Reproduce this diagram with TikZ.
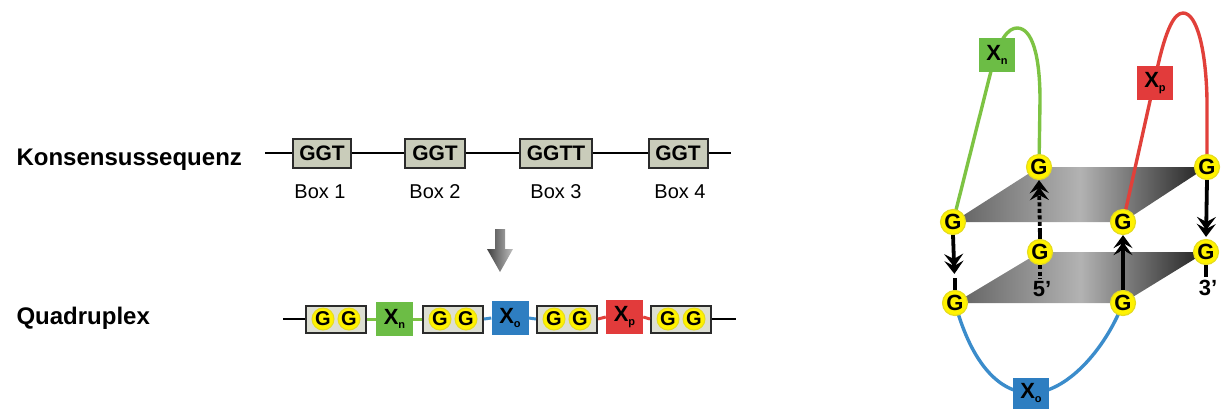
\documentclass[tikz,border=0pt]{standalone}
\usepackage{fontspec}
\setmainfont{Liberation Sans}
\usetikzlibrary{arrows.meta,calc}

\definecolor{seqfill}{HTML}{C9CCBA}
\definecolor{ggfill}{HTML}{DDDFD3}
\definecolor{boxedge}{HTML}{2B2B2B}
\definecolor{gyellow}{HTML}{FFF200}
\definecolor{grim}{HTML}{E6DC1E}
\definecolor{xgreen}{HTML}{6CBD45}
\definecolor{xblue}{HTML}{2E7EC1}
\definecolor{xred}{HTML}{E23B3B}
\definecolor{lgreen}{HTML}{7DC343}
\definecolor{lblue}{HTML}{3B8CCB}
\definecolor{lred}{HTML}{E1403A}

\newcommand{\fs}[1]{\fontsize{#1}{#1}\selectfont}
\newcommand{\xsub}[1]{X\raisebox{-4pt}{\fs{11}#1}}

\tikzset{
  rowlabel/.style={anchor=base west, font=\fs{24}\bfseries},
  seqbox/.style={draw=boxedge, line width=2, fill=seqfill, minimum height=29,
    inner sep=0, font=\fs{21}\bfseries},
  boxname/.style={anchor=base, font=\fs{20}},
  ggbox/.style={draw=boxedge, line width=2, fill=ggfill, minimum width=60,
    minimum height=27, inner sep=0},
  gsmall/.style={circle, fill=gyellow, draw=grim, line width=1, minimum size=22,
    inner sep=0, font=\fs{20}\bfseries},
  gball/.style={circle, fill=gyellow, draw=grim, line width=1.2, minimum size=25,
    inner sep=0, font=\fs{22}\bfseries},
  xbox/.style={minimum width=37, minimum height=34, inner sep=0,
    font=\fs{22}\bfseries},
  strand/.style={line width=2},
  cstrand/.style={line width=3},
  loop/.style={line width=3.4},
  arr/.style={line width=3.8, -{Stealth[length=13,width=19,inset=5,sep=-6]Stealth[length=13,width=19,inset=5]}},
  stem/.style={line width=3.8},
  dotline/.style={dash pattern=on 4 off 2.5},
  endlabel/.style={font=\fs{22}\bfseries},
  plane/.style={left color=black!62, right color=black!88, middle color=black!30}
}

\begin{document}
\begin{tikzpicture}[x=1pt,y=-1pt]
\useasboundingbox (0,0) rectangle (1222,408);

% ---------- consensus sequence ----------
\node[rowlabel] (lab1) at (13,165) {Konsensussequenz};
\coordinate (s0) at (265,153);
\coordinate (s5) at (731,153);
\node[seqbox, minimum width=58] (b1) at (322,153) {GGT};
\node[seqbox, minimum width=60] (b2) at (435,153) {GGT};
\node[seqbox, minimum width=72] (b3) at (556,153) {GGTT};
\node[seqbox, minimum width=59] (b4) at (678,153) {GGT};
\draw[strand] (s0) -- (b1.west) (b1.east) -- (b2.west) (b2.east) -- (b3.west)
  (b3.east) -- (b4.west) (b4.east) -- (s5);
\node[boxname] (n1) at (320,198) {Box 1};
\node[boxname] (n2) at (435,198) {Box 2};
\node[boxname] (n3) at (556,198) {Box 3};
\node[boxname] (n4) at (680,198) {Box 4};

% ---------- shaded down arrow ----------
\shade[left color=black!75, right color=black!25]
  (495,229) -- (505,229) -- (505,249) -- (513,249) -- (500,272)
  -- (487,249) -- (495,249) -- cycle;

% ---------- quadruplex sequence ----------
\node[rowlabel] (lab2) at (13,324) {Quadruplex};
\coordinate (q0) at (283,319);
\coordinate (q9) at (736,319);
\node[ggbox] (g1) at (336,319) {};
\node[xbox, fill=xgreen] (qn) at (394.5,319) {\xsub{n}};
\node[ggbox] (g2) at (453,319) {};
\node[xbox, fill=xblue] (qo) at (510,318) {\xsub{o}};
\node[ggbox] (g3) at (567,319) {};
\node[xbox, fill=xred] (qp) at (624.5,317) {\xsub{p}};
\node[ggbox] (g4) at (681,319) {};
\draw[strand] (q0) -- (g1.west);
\draw[cstrand, lgreen] (g1.east) -- (qn.west) (qn.east) -- (g2.west);
\draw[cstrand, lblue] (g2.east) -- (qo.west) (qo.east) -- (g3.west);
\draw[cstrand, lred] (g3.east) -- (qp.west) (qp.east) -- (g4.west);
\draw[strand] (g4.east) -- (q9);
\foreach \b in {g1,g2,g3,g4}{
  \node[gsmall] (\b a) at ($(\b.center)+(-13,0)$) {G};
  \node[gsmall] (\b b) at ($(\b.center)+(13,0)$) {G};
}

% ---------- G-quartet stack ----------
\coordinate (ptfl) at (953,222);
\coordinate (ptfr) at (1123,222);
\coordinate (ptbl) at (1039,167);
\coordinate (ptbr) at (1207,167);
\coordinate (pbfl) at (955,303);
\coordinate (pbfr) at (1123,303);
\coordinate (pbbl) at (1040,252);
\coordinate (pbbr) at (1206,252);

\shade[plane] (ptfl) -- (ptfr) -- (ptbr) -- (ptbl) -- cycle;
\shade[plane] (pbfl) -- (pbfr) -- (pbbr) -- (pbbl) -- cycle;

% loops
\draw[loop, lgreen] (ptfl) -- (992,67) .. controls (999,40) and (1008,28) .. (1017,28)
  .. controls (1032,28) and (1040,55) .. (1040,100) -- (ptbl);
\draw[loop, lred] (ptfr) -- (1158,65) .. controls (1166,30) and (1174,13) .. (1183,13)
  .. controls (1197,13) and (1206,50) .. (1207,100) -- (ptbr);
\draw[loop, lblue] (pbfl) .. controls (972,365) and (1000,393) .. (1031,393)
  .. controls (1066,393) and (1105,350) .. (pbfr);
\node[xbox, fill=xgreen, minimum width=36] (ln) at (997,55) {\xsub{n}};
\node[xbox, fill=xred, minimum width=36] (lp) at (1155,83) {\xsub{p}};
\node[xbox, fill=xblue, minimum width=36, minimum height=31] (lo) at (1031,393) {\xsub{o}};

% guanines
\node[gball] (tfl) at (ptfl) {G};
\node[gball] (tfr) at (ptfr) {G};
\node[gball] (tbl) at (ptbl) {G};
\node[gball] (tbr) at (ptbr) {G};
\node[gball] (bfl) at (pbfl) {G};
\node[gball] (bfr) at (pbfr) {G};
\node[gball] (bbl) at (pbbl) {G};
\node[gball] (bbr) at (pbbr) {G};

% strand direction
\draw[arr, shorten >=16] (tfl.south) -- (bfl.north);
\draw[stem] (bfl.north) -- ++(0,-12);
\draw[stem] (bbl.north) -- ++(0,-11);
\draw[arr, dotline] (bbl.north) -- (tbl.south);
\draw[arr] (bfr.north) -- (tfr.south);
\draw[arr, shorten >=2] (tbr.south) -- (bbr.north);
\draw[stem, dotline] (bbl.south) -- ++(0,14) coordinate (e5);
\draw[stem] (bbr.south) -- ++(0,12) coordinate (e3);
\node[endlabel, anchor=north] (l5) at ($(e5)+(2,-1)$) {5’};
\node[endlabel, anchor=north] (l3) at ($(e3)+(2,-1)$) {3’};
\end{tikzpicture}
\end{document}
